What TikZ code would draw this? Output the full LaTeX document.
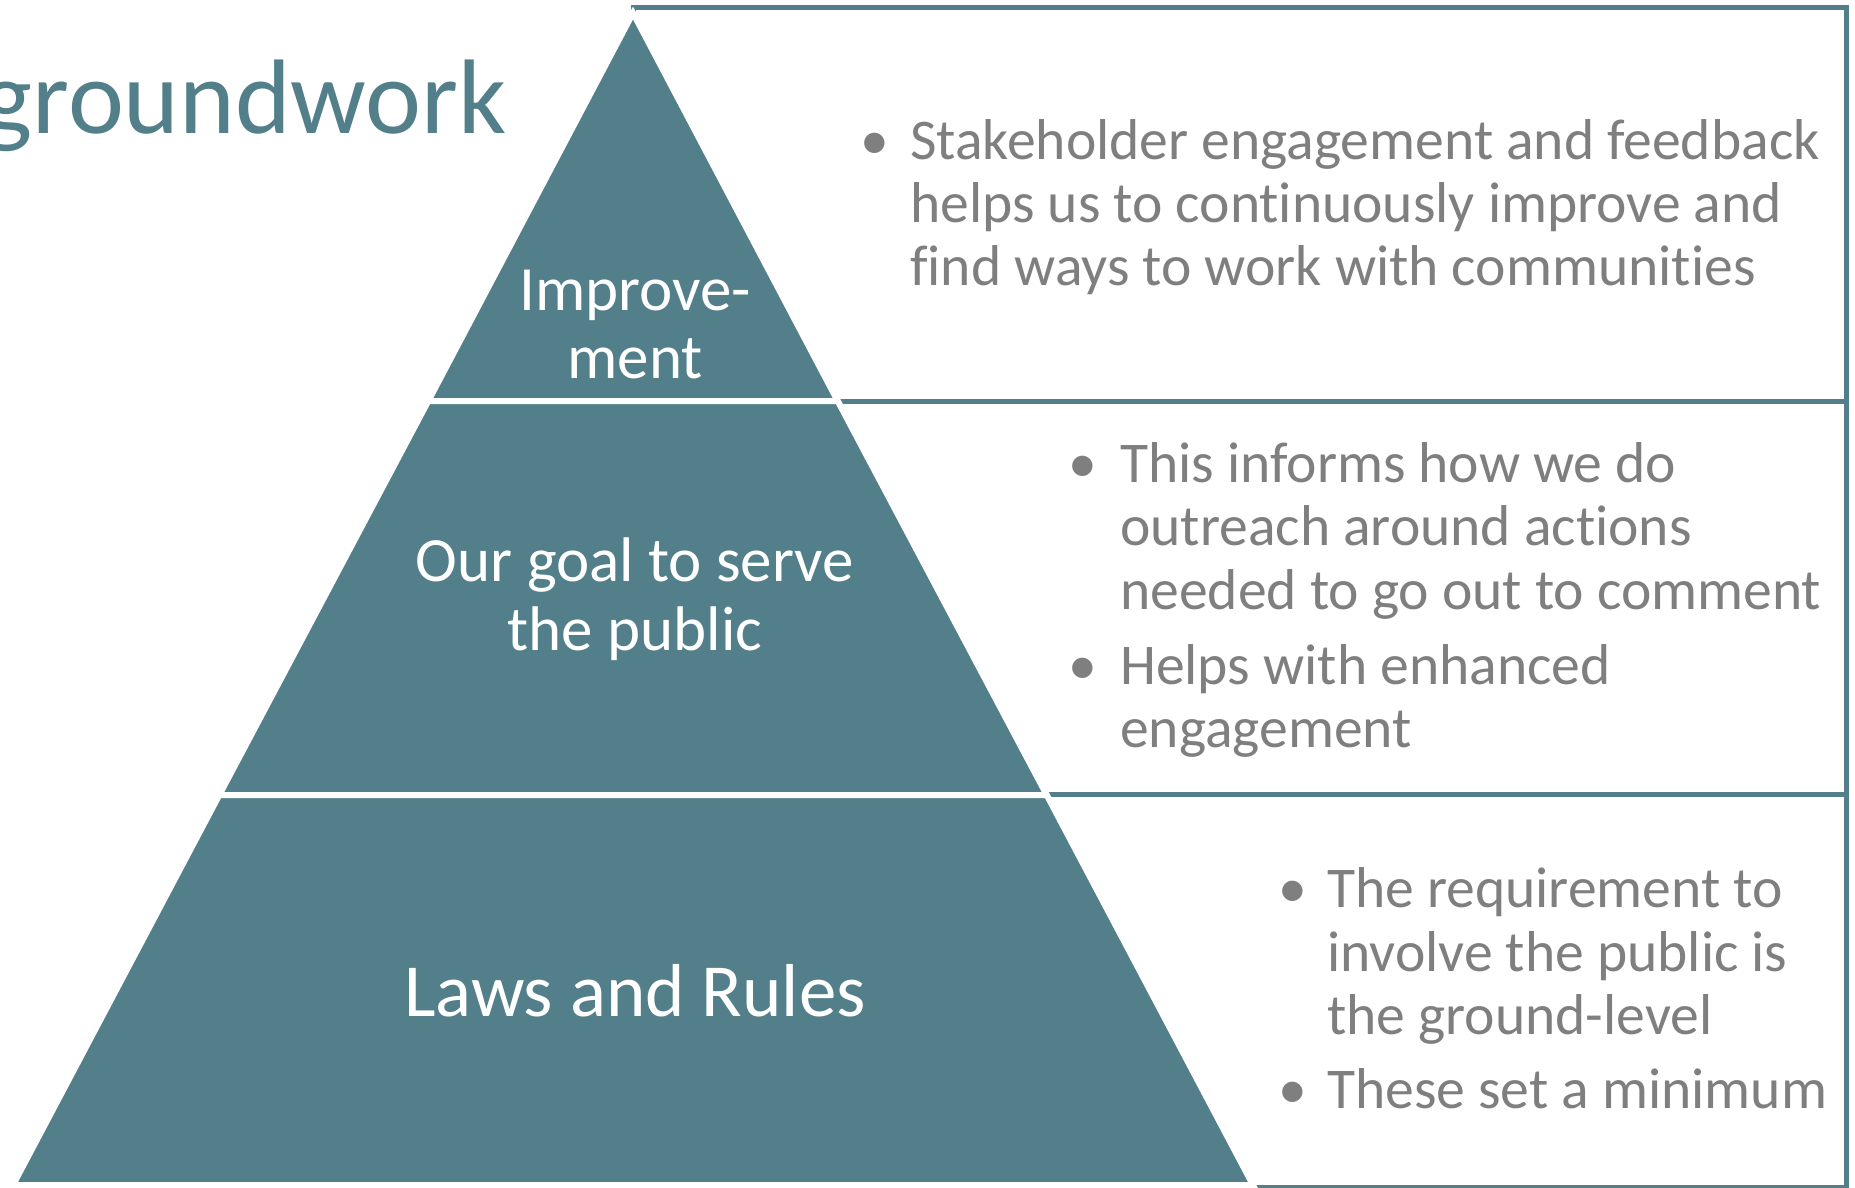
\documentclass[tikz,border=0pt]{standalone}
\usepackage{fontspec}
\setmainfont{Carlito}[Ligatures={NoCommon}]
\definecolor{teal1}{HTML}{527F8A}
\definecolor{gray1}{HTML}{7F7F7F}
\tikzset{
  tier/.style={fill=teal1, draw=white, line width=6pt, line join=miter},
  panel/.style={fill=white, draw=teal1, line width=5pt},
  ptxt/.style={text=white, inner sep=0pt, anchor=base, font=\fontsize{63}{67}\selectfont},
  rtxt/.style={text=gray1, inner sep=0pt, anchor=base west, font=\fontsize{57.6}{62}\selectfont},
  bul/.style={text=gray1, inner sep=0pt, anchor=base, font=\fontsize{57.6}{62}\selectfont},
}
\begin{document}
\begin{tikzpicture}[x=1pt,y=-1pt]
\useasboundingbox (0,0) rectangle (1855,1188);
% panels
\coordinate (p1nw) at (633,7.5);
\coordinate (p1se) at (1846.5,401);
\coordinate (p2nw) at (633,401);
\coordinate (p2se) at (1846.5,794);
\coordinate (p3nw) at (633,794);
\coordinate (p3se) at (1846.5,1187);
\draw[panel] (p1nw) rectangle (p1se);
\draw[panel] (p2nw) rectangle (p2se);
\draw[panel] (p3nw) rectangle (p3se);
% pyramid
\coordinate (A) at (633,13);
\coordinate (L1) at (428.3,401);
\coordinate (R1) at (837.7,401);
\coordinate (L2) at (219.3,795);
\coordinate (R2) at (1046.7,795);
\coordinate (BL) at (13,1185);
\coordinate (BR) at (1253,1185);
\path[tier] (A) -- (R1) -- (L1) -- cycle;
\path[tier] (L1) -- (R1) -- (R2) -- (L2) -- cycle;
\path[tier] (L2) -- (R2) -- (BR) -- (BL) -- cycle;
% title
\node[text=teal1, inner sep=0pt, anchor=base east, font=\fontsize{106}{112}\selectfont] (title) at (507,134) {groundwork};
% pyramid labels
\node[ptxt] (t1a) at (635,310) {Improve-};
\node[ptxt] (t1b) at (635,378) {ment};
\node[ptxt] (t2a) at (635,581) {Our goal to serve};
\node[ptxt] (t2b) at (635,650) {the public};
\node[ptxt, font=\fontsize{75}{80}\selectfont] (t3) at (635,1016) {Laws and Rules};
% panel 1 text
\node[bul] (b1) at (875,159) {•};
\node[rtxt] (s1a) at (910,159) {Stakeholder engagement and feedback};
\node[rtxt] (s1b) at (910,222) {helps us to continuously improve and};
\node[rtxt] (s1c) at (910,285) {find ways to work with communities};
% panel 2 text
\node[bul] (b2) at (1083,482) {•};
\node[rtxt] (s2a) at (1120,482) {This informs how we do};
\node[rtxt] (s2b) at (1120,545) {outreach around actions};
\node[rtxt] (s2c) at (1120,609) {needed to go out to comment};
\node[bul] (b3) at (1083,684) {•};
\node[rtxt] (s2d) at (1120,684) {Helps with enhanced};
\node[rtxt] (s2e) at (1120,747) {engagement};
% panel 3 text
\node[bul] (b4) at (1293,907) {•};
\node[rtxt] (s3a) at (1327,907) {The requirement to};
\node[rtxt] (s3b) at (1327,971) {involve the public is};
\node[rtxt] (s3c) at (1327,1034) {the ground-level};
\node[bul] (b5) at (1293,1108) {•};
\node[rtxt] (s3d) at (1327,1108) {These set a minimum};
\end{tikzpicture}
\end{document}
